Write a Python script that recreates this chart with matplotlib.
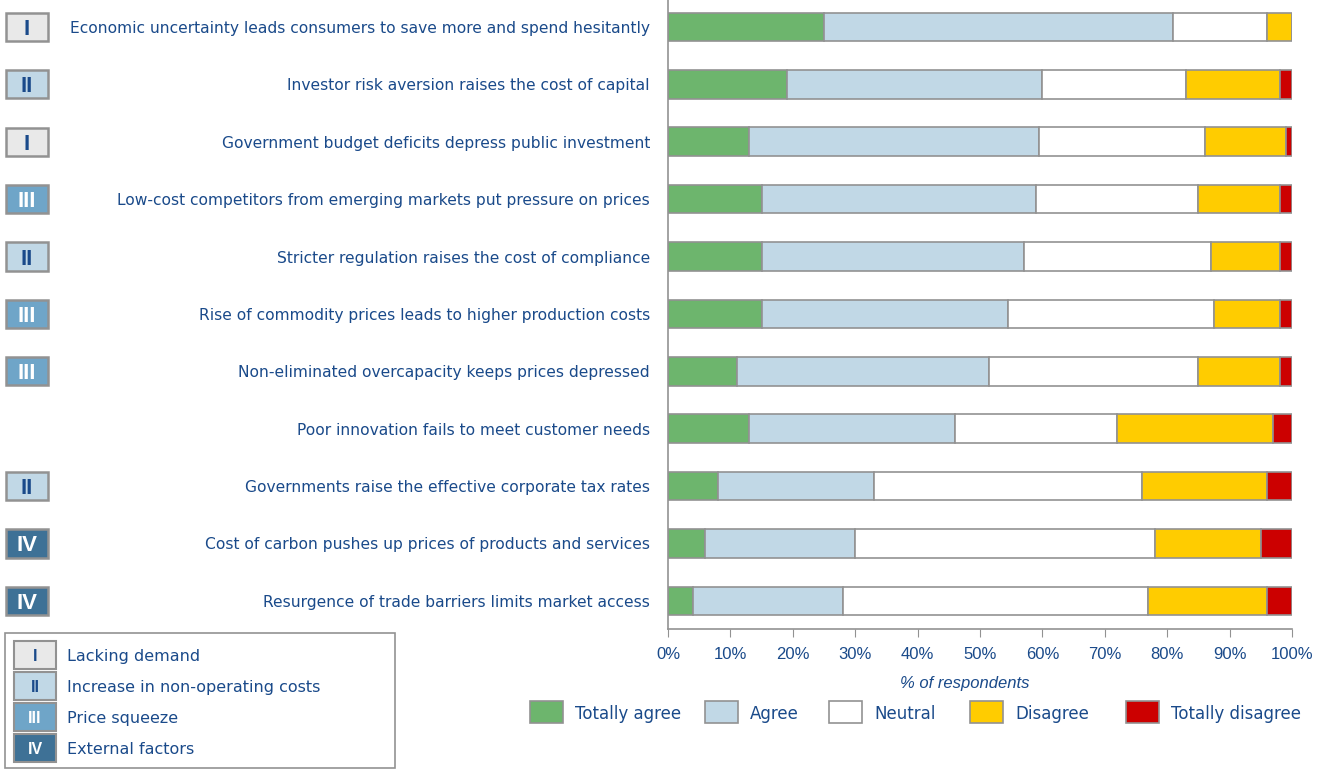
import matplotlib.pyplot as plt
from matplotlib.patches import Rectangle
from matplotlib.transforms import blended_transform_factory

plt.rcParams['font.family'] = ['DejaVu Sans']

################ Data

statements = [
    "Economic uncertainty leads consumers to save more and spend hesitantly",
    "Investor risk aversion raises the cost of capital",
    "Government budget deficits depress public investment",
    "Low-cost competitors from emerging markets put pressure on prices",
    "Stricter regulation raises the cost of compliance",
    "Rise of commodity prices leads to higher production costs",
    "Non-eliminated overcapacity keeps prices depressed",
    "Poor innovation fails to meet customer needs",
    "Governments raise the effective corporate tax rates",
    "Cost of carbon pushes up prices of products and services",
    "Resurgence of trade barriers limits market access",
]
groups = ["I", "II", "I", "III", "II", "III", "III", "", "II", "IV", "IV"]

totally_agree = [25, 19, 13, 15, 15, 15, 11, 13, 8, 6, 4]
agree = [56, 41, 46.5, 44, 42, 39.5, 40.5, 33, 25, 24, 24]
neutral = [15, 23, 26.5, 26, 30, 33, 33.5, 26, 43, 48, 49]
disagree = [4, 15, 13, 13, 11, 10.5, 13, 25, 20, 17, 19]
totally_disagree = [0, 2, 1, 2, 2, 2, 2, 3, 4, 5, 4]

answers = ["Totally agree", "Agree", "Neutral", "Disagree", "Totally disagree"]
answer_colors = ["#6db56d", "#c1d8e6", "#ffffff", "#ffcc00", "#cc0000"]

group_names = ["Lacking demand", "Increase in non-operating costs",
               "Price squeeze", "External factors"]
group_ids = ["I", "II", "III", "IV"]
group_fill = {"I": "#e9e9e9", "II": "#c1d8e6", "III": "#6fa5c8", "IV": "#3e7196"}
group_text = {"I": "#1a4a8a", "II": "#1a4a8a", "III": "white", "IV": "white"}

################

blue = "#1a4a8a"
edge = "#929292"
narrow = 'Liberation Sans'

fig = plt.figure(figsize=(13.25, 7.69), dpi=100)
ax = fig.add_axes([668 / 1325, 1 - 629 / 769, 624 / 1325, 629 / 769])

series = [totally_agree, agree, neutral, disagree, totally_disagree]
rows = list(range(len(statements)))
left = [0] * len(rows)
for vals, name, col in zip(series, answers, answer_colors):
    ax.barh(rows, vals, left=left, height=0.5, color=col, edgecolor=edge,
            linewidth=1.2, label=name)
    left = [a + b for a, b in zip(left, vals)]

ax.set_xlim(0, 100)
ax.set_ylim(10.49, -0.47)
ax.set_xticks(range(0, 101, 10))
ax.set_xticklabels([f"{v}%" for v in range(0, 101, 10)], color=blue,
                   fontsize=12, family=narrow)
ax.set_yticks(rows)
ax.set_yticklabels(statements, color=blue, fontsize=11.2)
ax.tick_params(axis='y', length=0, pad=13)
ax.tick_params(axis='x', length=6, color=edge, pad=7)
for s in ['top', 'right']:
    ax.spines[s].set_visible(False)
for s in ['left', 'bottom']:
    ax.spines[s].set_color(edge)
    ax.spines[s].set_linewidth(1.2)
ax.set_xlabel("% of respondents", color=blue, fontsize=12, style='italic',
              family=narrow)
ax.xaxis.set_label_coords(0.475, -0.075)

# group boxes next to each statement
tr = blended_transform_factory(fig.transFigure, ax.transData)
bw = 42 / 1325
for r, g in zip(rows, groups):
    if not g:
        continue
    fig.patches.append(Rectangle((6 / 1325, r - 0.245), bw, 0.49, transform=tr,
                                 facecolor=group_fill[g], edgecolor=edge, linewidth=1.8))
    fig.text(6 / 1325 + bw / 2, r, g, transform=tr, ha='center', va='center_baseline',
             color=group_text[g], fontsize=16, fontweight='bold', family=narrow)

# group legend, bottom left
fig.patches.append(Rectangle((5 / 1325, 1 - 768 / 769), 390 / 1325, 135 / 769,
                             transform=fig.transFigure, facecolor='white',
                             edgecolor=edge, linewidth=1.2))
for i, (g, name) in enumerate(zip(group_ids, group_names)):
    yc = 1 - (655 + i * 31) / 769
    fig.patches.append(Rectangle((14 / 1325, yc - 14 / 769), 42 / 1325, 28 / 769,
                                 transform=fig.transFigure, facecolor=group_fill[g],
                                 edgecolor=edge, linewidth=1.5))
    fig.text(35 / 1325, yc, g, ha='center', va='center_baseline', color=group_text[g],
             fontsize=11.5, fontweight='bold', family=narrow)
    fig.text(67 / 1325, yc, name, ha='left', va='center_baseline', color=blue,
             fontsize=11.5)

# answer legend below the axis
legend_x = [530, 705, 829, 970, 1126]
for x, name, col in zip(legend_x, answers, answer_colors):
    yc = 1 - 712 / 769
    fig.patches.append(Rectangle((x / 1325, yc - 11 / 769), 33 / 1325, 22 / 769,
                                 transform=fig.transFigure, facecolor=col,
                                 edgecolor=edge, linewidth=1.2))
    fig.text((x + 45) / 1325, yc, name, ha='left', va='center_baseline', color=blue,
             fontsize=12)

plt.savefig('out.png', dpi=100)
